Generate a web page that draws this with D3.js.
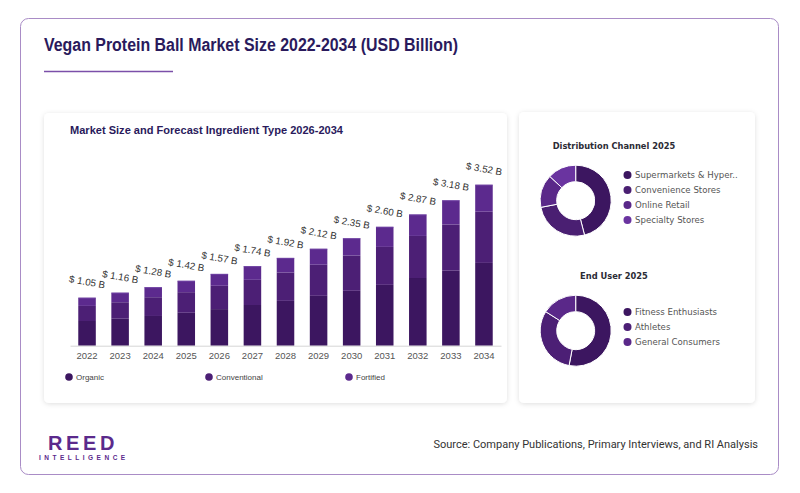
<!DOCTYPE html>
<html><head><meta charset="utf-8">
<script src="https://cdn.jsdelivr.net/npm/d3@7"></script>
<style>
html,body{margin:0;padding:0;background:#fff;}
svg{display:block;}
</style></head>
<body>
<svg id="c" width="800" height="493"></svg>
<script>
const years = ["2022","2023","2024","2025","2026","2027","2028","2029","2030","2031","2032","2033","2034"];
const totals = [1.05,1.16,1.28,1.42,1.57,1.74,1.92,2.12,2.35,2.60,2.87,3.18,3.52];
const organic = [0.54,0.59,0.65,0.72,0.80,0.89,0.98,1.09,1.20,1.33,1.48,1.64,1.81];
const conventional = [0.33,0.36,0.41,0.45,0.51,0.55,0.62,0.68,0.77,0.83,0.92,1.01,1.12];
const fortified = [0.18,0.21,0.22,0.25,0.26,0.30,0.32,0.35,0.38,0.44,0.47,0.53,0.59];
const seriesNames = ["Organic","Conventional","Fortified"];
const seriesColors = ["#3c1660","#4c1f75","#5c2a8e"];

const channelLabels = ["Supermarkets & Hyper..","Convenience Stores","Online Retail","Specialty Stores"];
const channelValues = [46,26,15,13];
const channelColors = ["#3c1660","#4a1f72","#5a2889","#6a34a0"];

const userLabels = ["Fitness Enthusiasts","Athletes","General Consumers"];
const userValues = [53,31,16];
const userColors = ["#3c1660","#4c1f75","#5a2889"];

const svg = d3.select("#c");
const defs = svg.append("defs");
const f = defs.append("filter").attr("id","sh").attr("x","-10%").attr("y","-10%").attr("width","120%").attr("height","120%");
f.append("feDropShadow").attr("dx",0).attr("dy",1).attr("stdDeviation",2.5).attr("flood-color","#000").attr("flood-opacity",0.13);

// outer frame
svg.append("rect").attr("x",20.5).attr("y",18.5).attr("width",758).attr("height",456).attr("rx",8)
  .attr("fill","#fff").attr("stroke","#a98cc6").attr("stroke-width",1);

svg.append("text").attr("x",44).attr("y",51).text("Vegan Protein Ball Market Size 2022-2034 (USD Billion)")
  .attr("font-family","Liberation Sans Narrow, Arial Narrow, sans-serif").attr("font-weight","bold")
  .attr("font-size",17.5).attr("fill","#2a1a5c")
  .attr("textLength",414).attr("lengthAdjust","spacingAndGlyphs");
svg.append("line").attr("x1",44).attr("x2",173).attr("y1",71.5).attr("y2",71.5).attr("stroke","#7b4fa9").attr("stroke-width",1.5);

// cards
svg.append("rect").attr("x",44).attr("y",113).attr("width",463).attr("height",290).attr("rx",5).attr("fill","#fff").attr("filter","url(#sh)");
svg.append("rect").attr("x",519).attr("y",112).attr("width",236).attr("height",291).attr("rx",5).attr("fill","#fff").attr("filter","url(#sh)");

svg.append("text").attr("x",70).attr("y",134).text("Market Size and Forecast Ingredient Type 2026-2034")
  .attr("font-family","Liberation Sans, Arial, sans-serif").attr("font-weight","bold").attr("font-size",10.5).attr("fill","#2a1a5c")
  .attr("textLength",273).attr("lengthAdjust","spacingAndGlyphs");

// bar chart
const x = d3.scaleBand().domain(years).range([70,501]).paddingInner(0.47).paddingOuter(0.25);
const y = d3.scaleLinear().domain([0,4]).range([345.7,345.7-4*45.74]);
const rows = years.map((yr,i)=>({year:yr, Organic:organic[i], Conventional:conventional[i], Fortified:fortified[i], total:totals[i]}));
const stack = d3.stack().keys(seriesNames)(rows);
const g = svg.append("g");
stack.forEach((s,si)=>{
  g.append("g").attr("fill",seriesColors[si]).selectAll("rect").data(s).join("rect")
    .attr("x",d=>x(d.data.year)).attr("width",x.bandwidth())
    .attr("y",d=>y(d[1])).attr("height",d=>y(d[0])-y(d[1]));
});
g.selectAll("line.top").data(rows).join("line").attr("class","top")
  .attr("x1",d=>x(d.year)).attr("x2",d=>x(d.year)+x.bandwidth())
  .attr("y1",d=>y(d.total)+0.5).attr("y2",d=>y(d.total)+0.5).attr("stroke","#7a4fb0").attr("stroke-width",1).attr("opacity",0.6);

g.selectAll("text.val").data(rows).join("text").attr("class","val")
  .attr("transform",d=>`translate(${x(d.year)+x.bandwidth()/2},${y(d.total)-15}) rotate(10)`)
  .attr("text-anchor","middle").attr("dominant-baseline","middle")
  .attr("font-family","Liberation Sans, Arial, sans-serif").attr("font-size",9.8).attr("fill","#333")
  .text(d=>"$ "+d.total.toFixed(2)+" B");

const xa = svg.append("g").attr("transform","translate(0,345.7)").call(d3.axisBottom(x).tickSize(0).tickPadding(7));
xa.select(".domain").attr("stroke","#d6d6d6");
xa.selectAll("text").attr("font-family","Liberation Sans, Arial, sans-serif").attr("font-size",9.5).attr("fill","#555");

// legend
const lx = [69,209,349];
seriesNames.forEach((n,i)=>{
  svg.append("circle").attr("cx",lx[i]).attr("cy",377).attr("r",3.8).attr("fill",seriesColors[i]);
  svg.append("text").attr("x",lx[i]+7).attr("y",380).text(n).attr("font-family","Liberation Sans, Arial, sans-serif")
    .attr("font-size",8).attr("fill","#444");
});

// donuts
function donut(cx,cy,title,ty,labels,values,colors,ly){
  svg.append("text").attr("x",614).attr("y",ty).attr("text-anchor","middle").text(title)
    .attr("font-family","DejaVu Sans, sans-serif").attr("font-weight","bold").attr("font-size",8.3).attr("fill","#2b2b35");
  const pie = d3.pie().sort(null).value(d=>d)(values);
  const arc = d3.arc().innerRadius(19).outerRadius(35.5);
  svg.append("g").attr("transform",`translate(${cx},${cy})`).selectAll("path").data(pie).join("path")
    .attr("d",arc).attr("fill",(d,i)=>colors[i]).attr("stroke","#fff").attr("stroke-width",1);
  labels.forEach((l,i)=>{
    svg.append("circle").attr("cx",627.5).attr("cy",ly+i*15).attr("r",4).attr("fill",colors[i]);
    svg.append("text").attr("x",635).attr("y",ly+i*15+3.3).text(l)
      .attr("font-family","DejaVu Sans, sans-serif").attr("font-size",8.6).attr("fill","#555");
  });
}
donut(575.7,200.7,"Distribution Channel 2025",149,channelLabels,channelValues,channelColors,175);
donut(575.7,330.7,"End User 2025",278.5,userLabels,userValues,userColors,312);

// footer
svg.append("text").attr("x",48).attr("y",450).text("REED").attr("font-family","Liberation Sans, Arial, sans-serif")
  .attr("font-weight","bold").attr("font-size",20).attr("letter-spacing",3.6).attr("fill","#5b2a8c");
svg.append("text").attr("x",39).attr("y",460).text("INTELLIGENCE").attr("font-family","Liberation Sans, Arial, sans-serif")
  .attr("font-weight","bold").attr("font-size",6.5).attr("letter-spacing",3.5).attr("fill","#5b2a8c");
svg.append("text").attr("x",758).attr("y",448).attr("text-anchor","end")
  .text("Source: Company Publications, Primary Interviews, and RI Analysis")
  .attr("font-family","Roboto, sans-serif").attr("font-size",11).attr("fill","#333");
</script>
</body></html>
